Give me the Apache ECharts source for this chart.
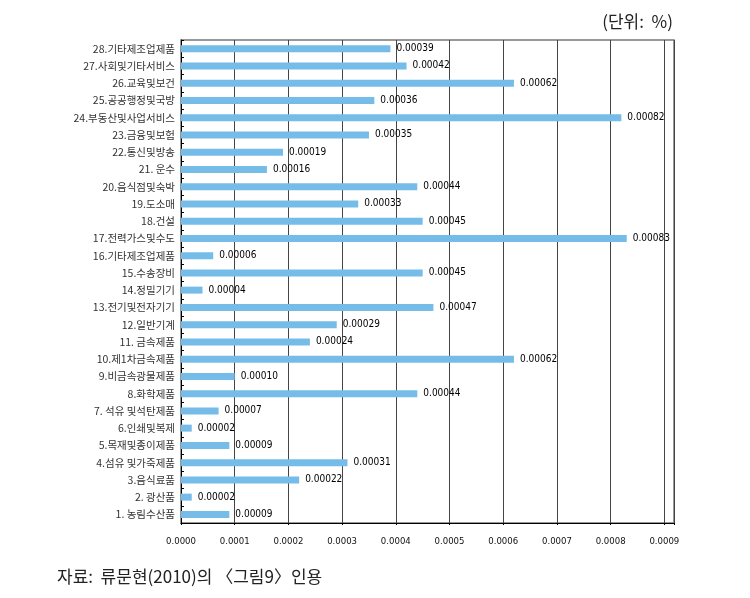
<!DOCTYPE html>
<html>
<head>
<meta charset="utf-8">
<script src="https://cdn.jsdelivr.net/npm/echarts@6/dist/echarts.min.js"></script>
<style>
html,body{margin:0;padding:0;background:#fff;}
#chart{width:750px;height:598px;}
</style>
</head>
<body>
<div id="chart"></div>
<script>
const categories = [
  "1. 농림수산품","2. 광산품","3.음식료품","4.섬유 및가죽제품","5.목재및종이제품",
  "6.인쇄및복제","7. 석유 및석탄제품","8.화학제품","9.비금속광물제품","10.제1차금속제품",
  "11. 금속제품","12.일반기계","13.전기및전자기기","14.정밀기기","15.수송장비",
  "16.기타제조업제품","17.전력가스및수도","18.건설","19.도소매","20.음식점및숙박",
  "21. 운수","22.통신및방송","23.금융및보험","24.부동산및사업서비스","25.공공행정및국방",
  "26.교육및보건","27.사회및기타서비스","28.기타제조업제품"
];
const values = [
  0.00009,0.00002,0.00022,0.00031,0.00009,
  0.00002,0.00007,0.00044,0.00010,0.00062,
  0.00024,0.00029,0.00047,0.00004,0.00045,
  0.00006,0.00083,0.00045,0.00033,0.00044,
  0.00016,0.00019,0.00035,0.00082,0.00036,
  0.00062,0.00042,0.00039
];
const xTicks = ["0.0000","0.0001","0.0002","0.0003","0.0004","0.0005","0.0006","0.0007","0.0008","0.0009"];
const unitText = "(단위:  %)";
const sourceText = "자료:  류문현(2010)의 〈그림9〉인용";

const chart = echarts.init(document.getElementById('chart'), null, {renderer:'canvas'});
chart.setOption({
  animation:false,
  backgroundColor:'#fff',
  grid:{left:181, top:40, right:76, bottom:75, show:true, borderColor:'#777', borderWidth:1.5},
  title:[
    {text:unitText, right:72, top:8, textStyle:{fontFamily:'"Noto Sans CJK KR"', fontSize:17, fontWeight:'normal', color:'#222'}},
    {text:sourceText, left:52, top:563, textStyle:{fontFamily:'"Noto Sans CJK KR"', fontSize:17, fontWeight:'normal', color:'#222'}}
  ],
  xAxis:{
    type:'value', min:0, max:0.000918, interval:0.0001,
    axisLine:{show:true, lineStyle:{color:'#000', width:1}},
    axisTick:{show:true, length:2, lineStyle:{color:'#000'}},
    splitLine:{show:true, lineStyle:{color:'#444', width:1}},
    axisLabel:{
      margin:14, fontFamily:'"DejaVu Sans Condensed", "Liberation Sans"', fontSize:9.5, color:'#111',
      formatter:function(v){
        const idx = Math.round(v/0.0001);
        if (Math.abs(v - idx*0.0001) > 1e-9) return '';
        return xTicks[idx] !== undefined ? xTicks[idx] : '';
      }
    }
  },
  yAxis:{
    type:'category', data:categories, boundaryGap:true,
    axisLine:{show:true, lineStyle:{color:'#000', width:1}},
    axisTick:{show:true, inside:true, length:3, lineStyle:{color:'#000'}},
    axisLabel:{margin:6, fontFamily:'"Noto Sans CJK KR"', fontSize:10.5, color:'#333'},
    splitLine:{show:false}
  },
  series:[{
    type:'bar', data:values, barWidth:7,
    itemStyle:{color:'#75BDE8'},
    label:{
      show:true, position:'right', distance:6,
      fontFamily:'"DejaVu Sans Condensed", "Liberation Sans"', fontSize:10, color:'#000',
      formatter:function(p){ return p.value.toFixed(5); }
    }
  }]
});
</script>
</body>
</html>
